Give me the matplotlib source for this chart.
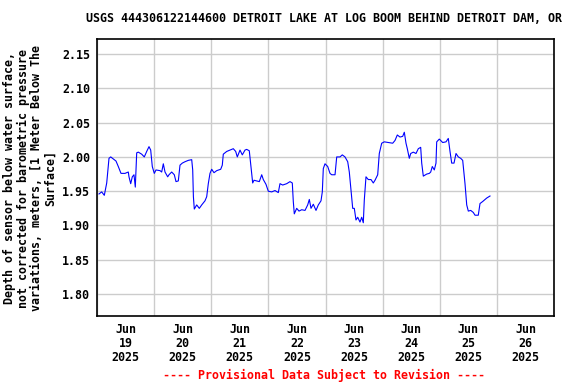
import matplotlib
matplotlib.use("Agg")
import matplotlib.pyplot as plt
import matplotlib.dates as mdates
import numpy as np
from datetime import datetime, timedelta

# Hours since 2025-06-19 00:00 and depth values (m)
hours = [0.84, 1.97, 3.07, 4.08, 5.04, 5.76, 6.85, 7.98, 8.95, 10.08, 11.76, 13.15, 13.44,
         14.16, 14.83, 15.54, 16.09, 16.68, 17.35, 18.78, 19.87, 20.88, 21.85, 22.56, 23.23,
         24.07, 24.79, 26.47, 27.18, 27.86, 28.57, 29.70, 30.25, 31.38, 32.48, 33.19, 34.16,
         34.87, 35.84, 36.97, 38.36, 39.79, 40.21, 40.5, 40.88, 41.89, 42.98, 43.99, 45.37,
         46.09, 46.76, 47.47, 48.19, 49.16, 50.29, 51.97, 52.64, 53.06, 54.49, 55.88, 57.26,
         58.27, 58.94, 60.08, 61.05, 62.18, 62.89, 63.98, 64.70, 65.41, 65.96, 67.10, 68.19,
         69.20, 69.87, 71.00, 71.97, 73.40, 74.78, 76.17, 76.88, 78.02, 79.70, 81.09, 82.05,
         82.47, 82.89, 83.90, 84.87, 86.00, 87.39, 88.52, 89.20, 89.91, 90.88, 92.01, 92.98,
         94.11, 94.66, 95.08, 95.79, 96.93, 97.89, 98.61, 100.00, 100.71, 102.09, 103.06,
         104.19, 105.33, 106.00, 106.71, 107.43, 108.10, 108.81, 109.53, 110.49, 111.21,
         111.88, 112.30, 113.01, 113.98, 115.12, 116.08, 116.80, 117.93, 118.60, 119.61,
         120.70, 122.38, 124.23, 125.20, 126.17, 127.30, 128.43, 129.11, 129.82, 130.37,
         131.21, 131.80, 132.89, 134.02, 134.99, 135.99, 136.42, 137.09, 138.52, 139.61,
         140.20, 140.87, 141.71, 142.42, 142.72, 143.81, 145.24, 146.63, 147.59, 148.31,
         149.02, 149.99, 150.83, 151.80, 152.80, 153.64, 154.61, 155.33, 156.00, 157.01,
         158.10, 158.81, 160.19, 160.91, 162.04, 163.72, 165.11]
depth = [1.946, 1.949, 1.944, 1.962, 1.998, 2.000, 1.997, 1.994, 1.986, 1.976, 1.976, 1.978, 1.971,
         1.961, 1.971, 1.974, 1.956, 2.006, 2.007, 2.004, 2.000, 2.008, 2.015, 2.010, 1.986,
         1.976, 1.981, 1.980, 1.978, 1.990, 1.978, 1.971, 1.974, 1.978, 1.974, 1.964, 1.965,
         1.988, 1.991, 1.993, 1.995, 1.996, 1.981, 1.942, 1.924, 1.930, 1.925, 1.930, 1.936,
         1.942, 1.961, 1.976, 1.982, 1.977, 1.980, 1.982, 1.988, 2.004, 2.008, 2.010, 2.012,
         2.008, 2.000, 2.010, 2.003, 2.010, 2.011, 2.009, 1.986, 1.962, 1.966, 1.965, 1.964,
         1.974, 1.967, 1.960, 1.950, 1.949, 1.951, 1.948, 1.961, 1.959, 1.961, 1.964, 1.962,
         1.935, 1.917, 1.925, 1.921, 1.923, 1.922, 1.930, 1.938, 1.925, 1.931, 1.922, 1.930,
         1.936, 1.949, 1.983, 1.990, 1.986, 1.976, 1.974, 1.974, 2.000, 2.000, 2.003,
         2.000, 1.993, 1.978, 1.952, 1.925, 1.925, 1.908, 1.912, 1.905, 1.912,
         1.904, 1.937, 1.971, 1.967, 1.967, 1.962, 1.966, 1.974, 2.005, 2.020,
         2.022, 2.021, 2.020, 2.024, 2.032, 2.029, 2.030, 2.036, 2.020, 2.012,
         1.998, 2.005, 2.007, 2.005, 2.012, 2.014, 1.991, 1.972, 1.975, 1.976,
         1.978, 1.986, 1.981, 1.991, 2.022, 2.026, 2.021, 2.022, 2.027, 2.008,
         1.991, 1.991, 2.005, 2.000, 1.998, 1.995, 1.961, 1.930, 1.921, 1.922,
         1.919, 1.915, 1.915, 1.932, 1.935, 1.940, 1.943]

y_ticks = [1.80, 1.85, 1.90, 1.95, 2.00, 2.05, 2.10, 2.15]
day_labels = ["Jun\n19\n2025", "Jun\n20\n2025", "Jun\n21\n2025", "Jun\n22\n2025",
              "Jun\n23\n2025", "Jun\n24\n2025", "Jun\n25\n2025", "Jun\n26\n2025"]

title = "USGS 444306122144600 DETROIT LAKE AT LOG BOOM BEHIND DETROIT DAM, OR"
ylabel = ("Depth of sensor below water surface,\nnot corrected for barometric pressure\n"
          "variations, meters, [1 Meter Below The\nSurface]")
footer = "---- Provisional Data Subject to Revision ----"

FONT = "DejaVu Sans Mono"
FS = 8.4

base = datetime(2025, 6, 19)
times = [base + timedelta(hours=h) for h in hours]

fig = plt.figure(figsize=(5.76, 3.84), dpi=100)
ax = fig.add_axes([97 / 576, 1 - 316 / 384, (554 - 97) / 576, (316 - 39) / 384])

ax.plot(times, depth, color="#0000ff", linewidth=0.8)

ax.set_xlim(base, base + timedelta(days=8))
ax.set_ylim(1.768, 2.172)

major = [base + timedelta(days=i) for i in range(9)]
minor = [base + timedelta(days=i, hours=12) for i in range(8)]
ax.set_xticks(major)
ax.set_xticklabels([""] * len(major))
ax.set_xticks(minor, minor=True)
ax.set_xticklabels(day_labels, minor=True, fontfamily=FONT, fontweight="bold",
                   fontsize=FS, linespacing=1.1)
ax.tick_params(axis="x", which="both", length=0, pad=5)

ax.set_yticks(y_ticks)
ax.set_yticklabels([f"{v:.2f}" for v in y_ticks], fontfamily=FONT, fontweight="bold", fontsize=FS)
ax.tick_params(axis="y", length=0, pad=5)

ax.grid(True, which="major", color="#cccccc", linewidth=1.0)
ax.set_axisbelow(True)
for s in ax.spines.values():
    s.set_linewidth(1.2)
    s.set_color("black")

fig.text(324 / 576, 1 - 18 / 384, title, ha="center", va="center",
         fontfamily=FONT, fontweight="bold", fontsize=FS)
fig.text(30 / 576, 1 - 178 / 384, ylabel, ha="center", va="center", rotation=90,
         fontfamily=FONT, fontweight="bold", fontsize=FS, linespacing=1.05,
         multialignment="center")
fig.text(324 / 576, 1 - 375 / 384, footer, ha="center", va="center",
         fontfamily=FONT, fontweight="bold", fontsize=FS, color="red")

fig.savefig("out.png", dpi=100)
